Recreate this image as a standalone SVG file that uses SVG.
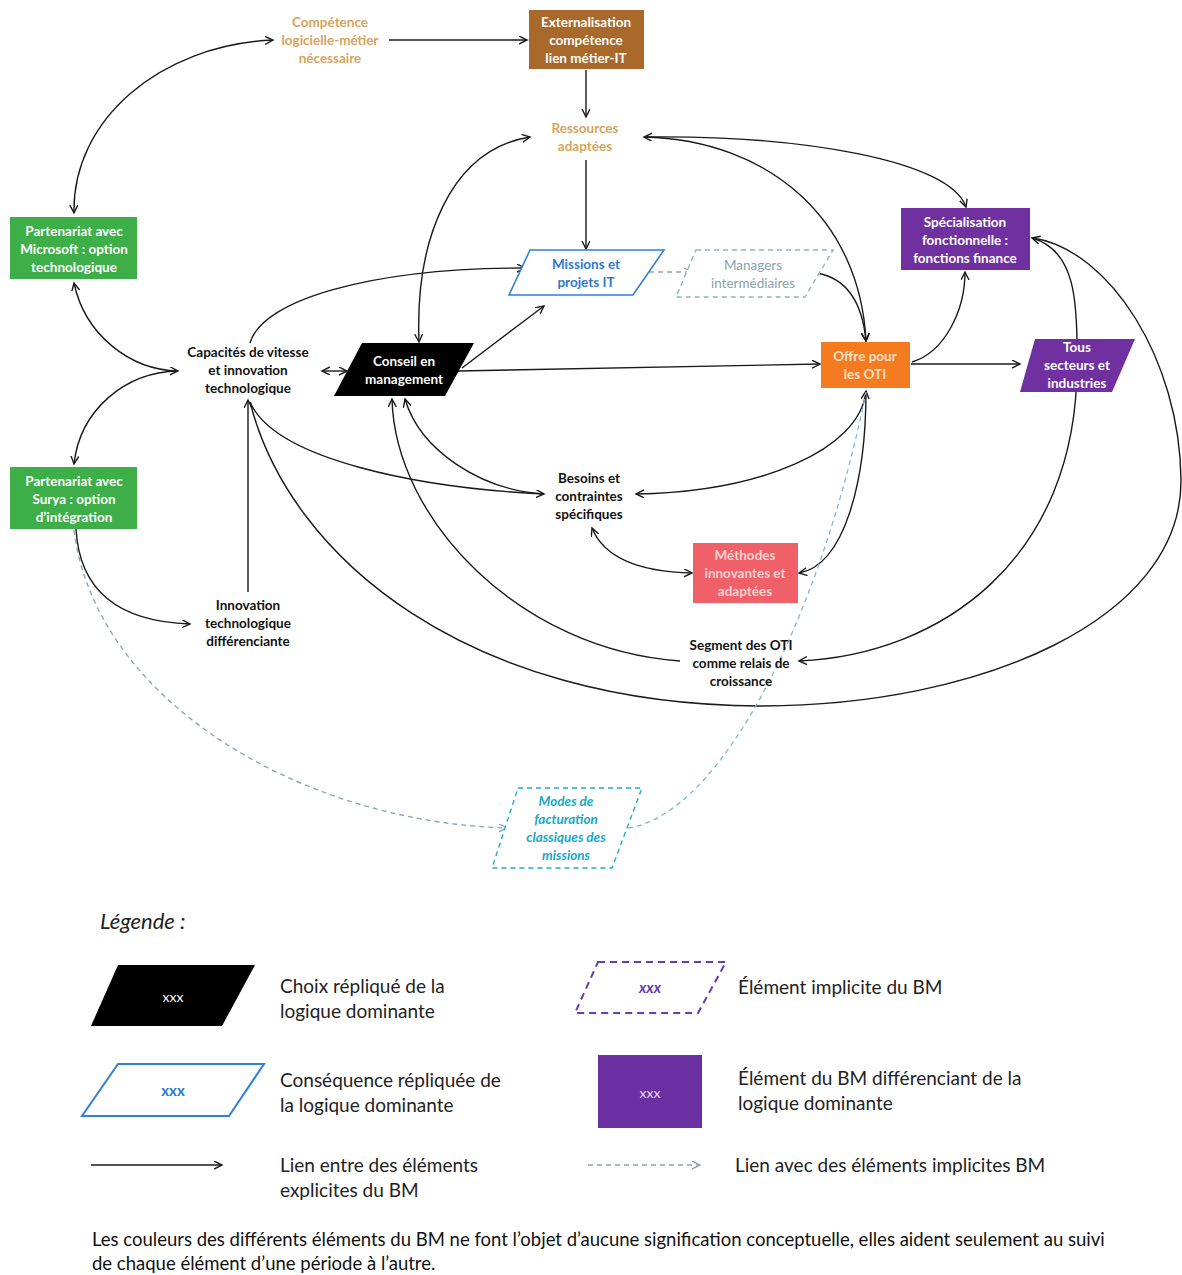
<svg xmlns="http://www.w3.org/2000/svg" width="1182" height="1275" viewBox="0 0 1182 1275">
<defs>
<marker id="ah" markerWidth="10" markerHeight="10" refX="8" refY="4" orient="auto-start-reverse" markerUnits="userSpaceOnUse">
<path d="M0,0 L8,4 L0,8" fill="none" stroke="#1a1a1a" stroke-width="1.4"/>
</marker>
<marker id="ahd" markerWidth="10" markerHeight="10" refX="8" refY="4" orient="auto-start-reverse" markerUnits="userSpaceOnUse">
<path d="M0,0 L8,4 L0,8" fill="none" stroke="#8fa5b5" stroke-width="1.4"/>
</marker>
</defs>
<style>
.c{fill:none;stroke:#1a1a1a;stroke-width:1.4}
.d{fill:none;stroke:#8fa5b5;stroke-width:1.4;stroke-dasharray:5 4}
.dl{fill:none;stroke:#7ab8dc;stroke-width:1.3;stroke-dasharray:5 4}
.t{font-family:Lato,"Liberation Sans",sans-serif;font-size:13.5px;font-weight:bold;text-anchor:middle}
.w{fill:#ffffff}
.k{fill:#111111}
.tan{fill:#d9a35c}
.lg{font-family:Lato,"Liberation Sans",sans-serif;font-size:19px;fill:#222}
</style>
<rect width="1182" height="1275" fill="#ffffff"/>
<g id="connectors">
<path class="c" d="M74 213 C72 120 160 45 273 40" marker-start="url(#ah)" marker-end="url(#ah)"/>
<path class="c" d="M389 40 L527 40" marker-end="url(#ah)"/>
<path class="c" d="M586 70 L586 117" marker-end="url(#ah)"/>
<path class="c" d="M586 160 L586 249" marker-end="url(#ah)"/>
<path class="c" d="M419 342 C415 240 450 150 530 137" marker-start="url(#ah)" marker-end="url(#ah)"/>
<path class="c" d="M644 137 C770 140 860 220 866 341" marker-start="url(#ah)" marker-end="url(#ah)"/>
<path class="c" d="M644 137 C800 135 950 160 966 207" marker-end="url(#ah)"/>
<path class="c" d="M817 273 C845 278 862 300 866 341" marker-end="url(#ah)"/>
<path class="d" d="M640 272 L692 272" marker-end="url(#ahd)"/>
<path class="c" d="M250 343 C262 300 370 268 525 268" marker-end="url(#ah)"/>
<path class="c" d="M462 368 L544 306" marker-end="url(#ah)"/>
<path class="c" d="M458 371 L820 364" marker-end="url(#ah)"/>
<path class="c" d="M322 371 L347 371" marker-start="url(#ah)" marker-end="url(#ah)"/>
<path class="c" d="M74 283 C85 335 130 370 178 371" marker-start="url(#ah)" marker-end="url(#ah)"/>
<path class="c" d="M74 464 C80 410 125 372 178 371" marker-start="url(#ah)"/>
<path class="c" d="M76 529 C80 600 130 622 190 624" marker-end="url(#ah)"/>
<path class="c" d="M248 592 L248 400" marker-end="url(#ah)"/>
<path class="c" d="M250 402 C275 460 420 488 544 494" marker-end="url(#ah)"/>
<path class="c" d="M405 399 C420 450 480 490 544 494" marker-start="url(#ah)"/>
<path class="c" d="M680 661 C520 650 395 520 392 399" marker-end="url(#ah)"/>
<path class="c" d="M866 391 C860 450 760 492 636 494" marker-start="url(#ah)" marker-end="url(#ah)"/>
<path class="c" d="M592 528 C605 560 645 572 692 573" marker-start="url(#ah)" marker-end="url(#ah)"/>
<path class="c" d="M866 391 C866 480 845 565 799 573" marker-end="url(#ah)"/>
<path class="c" d="M1032 238 C1075 250 1078 300 1077 365 C1077 560 940 655 799 661" marker-start="url(#ah)" marker-end="url(#ah)"/>
<path class="c" d="M250 402 C290 560 470 705 760 706 C980 706 1182 620 1181 480 C1180 360 1110 250 1033 238"/>
<path class="c" d="M911 364 L1020 364" marker-end="url(#ah)"/>
<path class="c" d="M912 362 C945 352 965 310 965 272" marker-end="url(#ah)"/>
<path class="d" d="M74 530 C95 700 300 822 507 828" marker-end="url(#ahd)"/>
<path class="dl" d="M628 828 C720 815 820 620 866 392"/>
</g>
<g id="competence">
<text class="t tan" x="330" y="27">Compétence</text>
<text class="t tan" x="330" y="45">logicielle-métier</text>
<text class="t tan" x="330" y="63">nécessaire</text>
</g>
<g id="externalisation">
<rect x="529" y="10" width="115" height="59" fill="#a8692a"/>
<text class="t w" x="586" y="27">Externalisation</text>
<text class="t w" x="586" y="45">compétence</text>
<text class="t w" x="586" y="63">lien métier-IT</text>
</g>
<g id="ressources">
<text class="t tan" x="585" y="133">Ressources</text>
<text class="t tan" x="585" y="151">adaptées</text>
</g>
<g id="microsoft">
<rect x="10" y="217" width="127" height="62" fill="#3eae48"/>
<text class="t w" x="74" y="236">Partenariat avec</text>
<text class="t w" x="74" y="254">Microsoft : option</text>
<text class="t w" x="74" y="272">technologique</text>
</g>
<g id="surya">
<rect x="10" y="467" width="127" height="62" fill="#3eae48"/>
<text class="t w" x="74" y="486">Partenariat avec</text>
<text class="t w" x="74" y="504">Surya : option</text>
<text class="t w" x="74" y="522">d’intégration</text>
</g>
<g id="capacites">
<text class="t k" x="248" y="357">Capacités de vitesse</text>
<text class="t k" x="248" y="375">et innovation</text>
<text class="t k" x="248" y="393">technologique</text>
</g>
<g id="conseil">
<polygon points="362,343 474,343 445,396 334,396" fill="#000"/>
<text class="t w" x="404" y="366">Conseil en</text>
<text class="t w" x="404" y="384">management</text>
</g>
<g id="missions">
<polygon points="530,250 664,250 633,295 509,295" fill="#fff" stroke="#2e80d8" stroke-width="1.6"/>
<text class="t" fill="#2d78d0" x="586" y="269">Missions et</text>
<text class="t" fill="#2d78d0" x="586" y="287">projets IT</text>
</g>
<g id="managers">
<polygon points="696,250 833,250 805,297 676,297" fill="#fff" stroke="#8fb3c8" stroke-width="1.4" stroke-dasharray="5 4"/>
<text class="t" fill="#8aa3ac" style="font-weight:normal" x="753" y="270">Managers</text>
<text class="t" fill="#8aa3ac" style="font-weight:normal" x="753" y="288">intermédiaires</text>
</g>
<g id="specialisation">
<rect x="901" y="208" width="129" height="62" fill="#7030a0"/>
<text class="t w" x="965" y="227">Spécialisation</text>
<text class="t w" x="965" y="245">fonctionnelle :</text>
<text class="t w" x="965" y="263">fonctions finance</text>
</g>
<g id="offre">
<rect x="821" y="342" width="89" height="46" fill="#f57b20"/>
<text class="t" fill="#fde0c8" x="865" y="361">Offre pour</text>
<text class="t" fill="#fde0c8" x="865" y="379">les OTI</text>
</g>
<g id="tous">
<polygon points="1035,339 1135,339 1112,392 1020,392" fill="#7030a0"/>
<text class="t w" x="1077" y="352">Tous</text>
<text class="t w" x="1077" y="370">secteurs et</text>
<text class="t w" x="1077" y="388">industries</text>
</g>
<g id="besoins">
<text class="t k" x="589" y="483">Besoins et</text>
<text class="t k" x="589" y="501">contraintes</text>
<text class="t k" x="589" y="519">spécifiques</text>
</g>
<g id="methodes">
<rect x="693" y="543" width="105" height="60" fill="#ef6068"/>
<text class="t" fill="#fbd2d2" x="745" y="560">Méthodes</text>
<text class="t" fill="#fbd2d2" x="745" y="578">innovantes et</text>
<text class="t" fill="#fbd2d2" x="745" y="596">adaptées</text>
</g>
<g id="innovation">
<text class="t k" x="248" y="610">Innovation</text>
<text class="t k" x="248" y="628">technologique</text>
<text class="t k" x="248" y="646">différenciante</text>
</g>
<g id="segment">
<text class="t k" x="741" y="650">Segment des OTI</text>
<text class="t k" x="741" y="668">comme relais de</text>
<text class="t k" x="741" y="686">croissance</text>
</g>
<g id="modes">
<polygon points="518,788 642,788 612,868 492,868" fill="#fff" stroke="#1fb0c8" stroke-width="1.4" stroke-dasharray="5 4"/>
<text class="t" fill="#1aa8c0" font-style="italic" x="566" y="806">Modes de</text>
<text class="t" fill="#1aa8c0" font-style="italic" x="566" y="824">facturation</text>
<text class="t" fill="#1aa8c0" font-style="italic" x="566" y="842">classiques des</text>
<text class="t" fill="#1aa8c0" font-style="italic" x="566" y="860">missions</text>
</g>
<g id="legend">
<text class="lg" x="100" y="929" font-style="italic" style="font-size:22px">Légende :</text>
<polygon points="118,965 255,965 222,1026 91,1026" fill="#000"/>
<text x="173" y="1002" text-anchor="middle" font-family="Lato,'Liberation Sans',sans-serif" font-size="14" fill="#fff">xxx</text>
<text class="lg" x="280" y="993">Choix répliqué de la</text>
<text class="lg" x="280" y="1018">logique dominante</text>
<polygon points="118,1064 264,1064 229,1116 82,1116" fill="#fff" stroke="#2e80d8" stroke-width="2"/>
<text x="173" y="1096" text-anchor="middle" font-family="Lato,'Liberation Sans',sans-serif" font-size="15" font-weight="bold" fill="#2d78d0">xxx</text>
<text class="lg" x="280" y="1087">Conséquence répliquée de</text>
<text class="lg" x="280" y="1112">la logique dominante</text>
<path d="M91 1165 L222 1165" class="c" marker-end="url(#ah)"/>
<text class="lg" x="280" y="1172">Lien entre des éléments</text>
<text class="lg" x="280" y="1197">explicites du BM</text>
<polygon points="598,962 726,962 698,1013 575,1013" fill="#fff" stroke="#6a3ab0" stroke-width="2" stroke-dasharray="7 5"/>
<text x="650" y="993" text-anchor="middle" font-family="Lato,'Liberation Sans',sans-serif" font-size="15" font-weight="bold" font-style="italic" fill="#6a3ab0">xxx</text>
<text class="lg" x="738" y="994">Élément implicite du BM</text>
<rect x="598" y="1055" width="104" height="73" fill="#6a2fa0"/>
<text x="650" y="1098" text-anchor="middle" font-family="Lato,'Liberation Sans',sans-serif" font-size="14" fill="#e8d8f0">xxx</text>
<text class="lg" x="738" y="1085">Élément du BM différenciant de la</text>
<text class="lg" x="738" y="1110">logique dominante</text>
<path d="M588 1165 L700 1165" class="d" marker-end="url(#ahd)"/>
<text class="lg" x="735" y="1172">Lien avec des éléments implicites BM</text>
</g>
<g id="footer">
<text x="92" y="1246" font-family="Lato,'Liberation Sans',sans-serif" font-size="18.5" fill="#111">Les couleurs des différents éléments du BM ne font l’objet d’aucune signification conceptuelle, elles aident seulement au suivi</text>
<text x="92" y="1270" font-family="Lato,'Liberation Sans',sans-serif" font-size="18.5" fill="#111">de chaque élément d’une période à l’autre.</text>
</g>
</svg>
